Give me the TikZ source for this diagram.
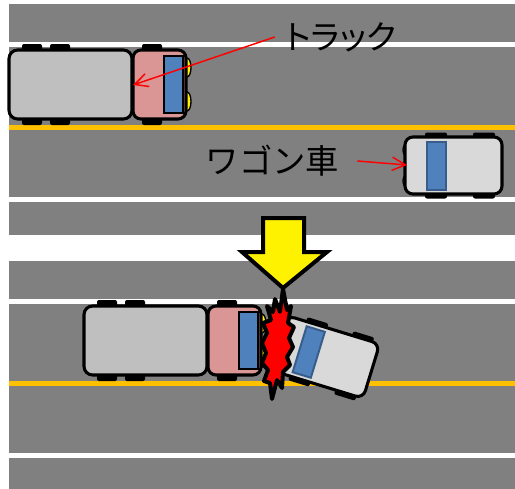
\documentclass[tikz,border=0pt]{standalone}
\usepackage{fontspec}
\newfontfamily\jpfont{Noto Sans CJK JP}
\newfontfamily\jppropfont[RawFeature=+palt]{Noto Sans CJK JP}
\usepackage{xcolor}
\usepackage{tikz}
\usetikzlibrary{arrows.meta}

\definecolor{asphalt}{HTML}{808080}
\definecolor{centreline}{HTML}{FFC000}
\definecolor{boxgray}{HTML}{BFBFBF}
\definecolor{cabpink}{HTML}{D99694}
\definecolor{vanwhite}{HTML}{D9D9D9}
\definecolor{glassblue}{HTML}{4F81BD}
\definecolor{glassedge}{HTML}{385D8A}

\begin{document}
\begin{tikzpicture}[
  x=0.75pt, y=-0.75pt,
  tag/.style     = {font=\jpfont\fontsize{25}{30}\selectfont, inner ysep=0pt},
  ptag/.style    = {font=\jppropfont\fontsize{25}{30}\selectfont, inner ysep=0pt},
  callout/.style = {red, line width=1.1pt,
                    -{Straight Barb[length=10pt, width=10pt, line width=1.1pt]}},
  tyre/.style    = {fill=black, rounded corners=1.5pt},
  lamp/.style    = {draw=black, fill=yellow, line width=1pt},
  trailer/.style = {draw=black, fill=boxgray, line width=2.3pt, rounded corners=6.5pt},
  cab/.style     = {draw=black, fill=cabpink, line width=2.3pt, rounded corners=6pt},
  wagon/.style   = {draw=black, fill=vanwhite, line width=2.3pt, rounded corners=6pt},
  glass/.style   = {draw=black, fill=glassblue, line width=2pt},
  vanglass/.style= {draw=glassedge, fill=glassblue, line width=1.5pt},
  burst/.style   = {draw=black, fill=red, line width=3pt, line join=round},
  bigarrow/.style= {draw=black, fill=yellow, line width=3pt, line join=miter}
]
\useasboundingbox (0,0) rectangle (515,489);

% road, before
\fill[asphalt] (9,4) rectangle (515,197);
\fill[white] (9,42) rectangle (515,47);
\fill[centreline] (9,125) rectangle (515,130);
\fill[asphalt] (9,202) rectangle (515,235);

% road, after
\fill[asphalt] (9,261) rectangle (515,453);
\fill[white] (9,299) rectangle (515,304);
\fill[centreline] (9,381) rectangle (515,386);
\fill[asphalt] (9,458) rectangle (515,489);

% trucks
\foreach \tx/\ty in {9/50, 84/306} {
  \begin{scope}[shift={(\tx,\ty)}]
    \foreach \wx in {13, 41, 133}
      \fill[tyre] (\wx,-6) rectangle ++(20,81);
    \draw[lamp] (178,17.5) ellipse [x radius=4, y radius=9.5];
    \draw[lamp] (178,51.5) ellipse [x radius=4, y radius=9.5];
    \draw[trailer] (0,0) rectangle (123,69);
    \draw[cab] (124,0) rectangle (177,69);
    \draw[glass] (155,6) rectangle (174,63);
  \end{scope}
}

% wagons
\foreach \cx/\cy/\turn in {453.5/165.5/0, 325/357/-17} {
  \begin{scope}[shift={(\cx,\cy)}, rotate=\turn]
    \fill[tyre] (-28.5,-33) rectangle (-6.5,33);
    \fill[tyre] (19.5,-33) rectangle (41.5,33);
    \draw[lamp] (-47,-15.5) ellipse [x radius=3.5, y radius=6];
    \draw[lamp] (-47,15.5) ellipse [x radius=3.5, y radius=6];
    \draw[wagon] (-48.5,-28.5) rectangle (48.5,28.5);
    \draw[vanglass] (-26.5,-24) rectangle (-7.5,24);
  \end{scope}
}

% crash
\draw[burst] (275,299) -- (280,312) -- (283,289) -- (287,310) -- (291,306)
  -- (288,323) -- (294,327) -- (289,338) -- (293,347) -- (287,357)
  -- (290,365) -- (283,372) -- (282,388) -- (277,380) -- (272,399)
  -- (270,383) -- (264,381) -- (268,370) -- (262,363) -- (266,353)
  -- (262,343) -- (267,333) -- (263,323) -- (271,320) -- (267,306)
  -- (273,312) -- cycle;

% down arrow
\draw[bigarrow] (263,218) -- (304,218) -- (304,252) -- (327,252)
  -- (283,288) -- (242,252) -- (263,252) -- cycle;

% labels
\node[ptag, inner xsep=8pt]   (lblTruck) at (341,37)    {トラック};
\node[tag, inner xsep=13.5pt] (lblWagon) at (272.5,161) {ワゴン車};
\coordinate (truckCab)  at (133,85);
\coordinate (wagonNose) at (407,165);

\draw[callout] (lblTruck.west) -- (truckCab);
\draw[callout] (lblWagon.east) -- (wagonNose);
\end{tikzpicture}
\end{document}
